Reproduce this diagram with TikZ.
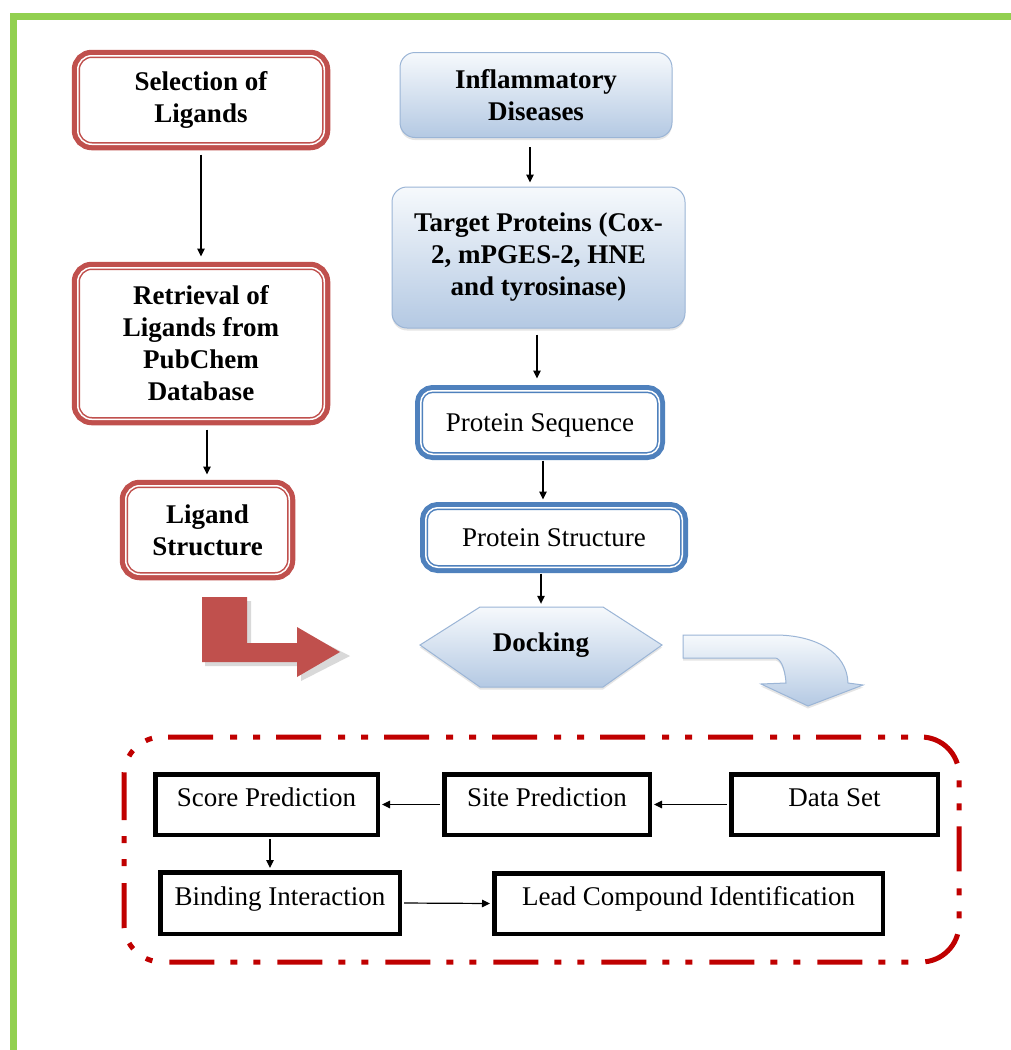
\documentclass[tikz,border=0pt]{standalone}
\usepackage{fontspec}
\setmainfont{Liberation Serif}
\usetikzlibrary{arrows.meta,shadows}
\definecolor{rred}{HTML}{C0504D}
\definecolor{dred}{HTML}{C00000}
\definecolor{bblue}{HTML}{4F81BD}
\definecolor{lbord}{HTML}{9BB5D6}
\definecolor{gtop}{HTML}{F6F9FC}
\definecolor{gbot}{HTML}{B4C9E3}
\definecolor{frame}{HTML}{92D050}
\begin{document}
\begin{tikzpicture}[x=1pt,y=-1pt,
  every node/.style={font=\fontsize{27}{32}\selectfont, inner sep=0pt, align=center},
  redbox/.style={rounded corners=14pt, fill=white, draw=rred, line width=4.5pt,
     preaction={draw=rred, line width=12pt}, postaction={draw=white, line width=1.5pt},
     font=\fontsize{27}{32}\selectfont\bfseries},
  bluebox/.style={rounded corners=12pt, fill=white, draw=bblue, line width=4.5pt,
     preaction={draw=bblue, line width=11.5pt}, postaction={draw=white, line width=1.5pt},
     text height=19pt, text depth=1pt},
  bluegrad/.style={rounded corners=15pt, draw=lbord, line width=1pt, top color=gtop, bottom color=gbot,
     drop shadow={opacity=0.2, shadow xshift=0pt, shadow yshift=-2.5pt},
     font=\fontsize{27}{32}\selectfont\bfseries},
  blackbox/.style={draw=black, line width=4.5pt, fill=white, text height=19pt, text depth=15pt},
  conn/.style={line width=1.2pt, -{Triangle[length=8pt,width=7.5pt]}}]
\useasboundingbox (0,0) rectangle (1011,1050);
\fill[white] (0,0) rectangle (1011,1050);
% green frame
\draw[frame, line width=7pt] (13.5,1060) -- (13.5,16.5) -- (1020,16.5);

% left column
\node[redbox, minimum width=246.5, minimum height=88.5] (sel) at (201,100) {Selection of\\Ligands};
\node[redbox, minimum width=246.5, minimum height=151.5] (ret) at (201,343.5) {Retrieval of\\Ligands from\\PubChem\\Database};
\node[redbox, minimum width=163.5, minimum height=88.5] (lig) at (207.5,530) {Ligand\\Structure};

\draw[conn, shorten <=8pt, shorten >=9pt] (sel.south) -- (sel.south |- ret.north);
\draw[conn, shorten <=8pt, shorten >=9pt] ([xshift=6pt]ret.south) -- ([xshift=6pt]ret.south |- lig.north);

% right column
\node[bluegrad, minimum width=272, minimum height=85] (infl) at (536,95) {Inflammatory\\Diseases};
\node[bluegrad, minimum width=293, minimum height=141] (targ) at (538.5,257.5) {Target Proteins (Cox-\\2, mPGES-2, HNE\\and tyrosinase)};
\node[bluebox, minimum width=238.5, minimum height=63.5] (pseq) at (540,422.5) {Protein Sequence};
\node[bluebox, minimum width=256.5, minimum height=59.5] (pstr) at (554,537.5) {Protein Structure};

% docking hexagon
\path[top color=gtop, bottom color=gbot, draw=lbord, line width=1pt,
      drop shadow={opacity=0.2, shadow xshift=0pt, shadow yshift=-2.5pt}]
  (420,645) -- (480,607) -- (603,607) -- (662,645) -- (603,687) -- (480,687) -- cycle;
\node[minimum width=242, minimum height=80, font=\fontsize{27}{32}\selectfont\bfseries] (dock) at (541,645) {Docking};

\draw[conn, shorten <=9pt, shorten >=4pt] ([xshift=-6pt]infl.south) -- ([xshift=-6pt]infl.south |- targ.north);
\draw[conn, shorten <=6pt, shorten >=10pt] ([xshift=-1.5pt]targ.south) -- ([xshift=-1.5pt]targ.south |- pseq.north);
\draw[conn, shorten <=4pt, shorten >=6pt] ([xshift=3pt]pseq.south) -- ([xshift=3pt]pseq.south |- pstr.north);
\draw[conn, shorten <=4pt, shorten >=1pt] (pstr.south -| dock.north) -- (dock.north);

% red L arrow
\fill[gray!30] (205,601) -- (251,601) -- (251,647) -- (301,647) -- (301,631) -- (350,656) -- (301,681) -- (301,666) -- (205,666) -- cycle;
\fill[rred] (202,597) -- (247,597) -- (247,643) -- (297,643) -- (297,627) -- (340,652) -- (297,677) -- (297,662) -- (202,662) -- cycle;

% blue curved arrow
\path[top color=gtop, bottom color=gbot, draw=lbord, line width=1pt,
      drop shadow={opacity=0.2, shadow xshift=0pt, shadow yshift=-2.5pt}]
  (683,635) -- (775,635) .. controls (815,635) and (847,652) .. (848,683) -- (863,685)
  -- (808,706) -- (761,684) -- (786,683) .. controls (785,667) and (780,658) .. (775,658)
  -- (683,658) -- cycle;

% dash-dot-dot frame
\draw[dred, line width=5pt, rounded corners=38pt,
      dash pattern=on 45pt off 16pt on 7pt off 16pt on 7pt off 17pt]
  (124,737) rectangle (959,962);

% bottom boxes
\node[blackbox, minimum width=222.5, minimum height=60.5] (score) at (266.5,804.5) {Score Prediction};
\node[blackbox, minimum width=205.5, minimum height=60.5] (site) at (547,804.5) {Site Prediction};
\node[blackbox, minimum width=206.5, minimum height=60.5] (data) at (834.5,804.5) {Data Set};
\node[blackbox, minimum width=239.5, minimum height=61.5] (bind) at (280,903) {Binding Interaction};
\node[blackbox, minimum width=388.5, minimum height=60.5] (lead) at (688.5,903.5) {Lead Compound Identification};

\draw[conn, shorten <=2pt, shorten >=2pt] (data.west) -- (site.east);
\draw[conn, shorten <=2pt, shorten >=2pt] (site.west) -- (score.east);
\draw[conn, shorten <=2pt, shorten >=2pt] ([xshift=3.5pt]score.south) -- ([xshift=3.5pt]score.south |- bind.north);
\draw[conn, shorten <=2pt, shorten >=2pt] (bind.east) -- (lead.west);
\end{tikzpicture}
\end{document}
